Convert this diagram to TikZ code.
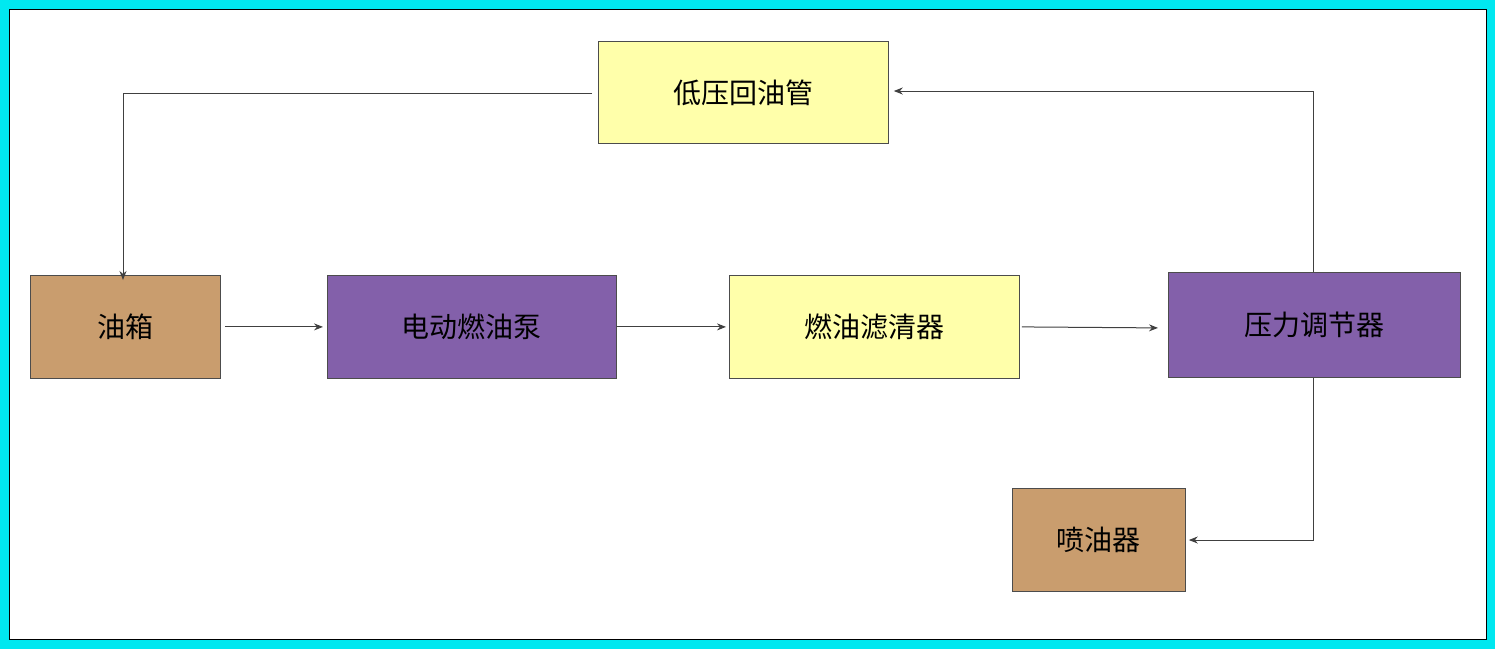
\documentclass[tikz,border=0pt]{standalone}
\usepackage{fontspec}
\newfontfamily\cjk{Noto Sans CJK SC}
\usetikzlibrary{arrows.meta}
\definecolor{ylw}{HTML}{FFFFAA}
\definecolor{tan}{HTML}{C99D6E}
\definecolor{prp}{HTML}{8360AA}
\definecolor{cyn}{HTML}{00E8F0}
\begin{document}
\begin{tikzpicture}[x=1pt,y=-1pt,
  box/.style={draw=black!70,line width=0.8pt,anchor=north west,inner sep=0pt,font=\cjk\fontsize{28}{32}\selectfont},
  arr/.style={draw=black!75,line width=1pt,-{Stealth[length=9pt,width=7pt]}}]
\fill[cyn] (0,0) rectangle (1495,649);
\fill[white,draw=black,line width=1pt] (9,9) rectangle (1486,639);
\node[box,fill=ylw,minimum width=290pt,minimum height=102pt] (lp) at (598,41) {低压回油管};
\node[box,fill=tan,minimum width=190pt,minimum height=103pt] (yx) at (30,275) {油箱};
\node[box,fill=prp,minimum width=289pt,minimum height=103pt] (bp) at (327,275) {电动燃油泵};
\node[box,fill=ylw,minimum width=290pt,minimum height=103pt] (lq) at (729,275) {燃油滤清器};
\node[box,fill=prp,minimum width=292pt,minimum height=105pt] (tj) at (1168,272) {压力调节器};
\node[box,fill=tan,minimum width=173pt,minimum height=103pt] (pq) at (1012,488) {喷油器};
\coordinate (c1) at (1313,91);
\coordinate (c2) at (123,93);
\coordinate (c3) at (1313,540);
\draw[arr] ([xshift=4pt]yx.east) -- ([xshift=-4pt]bp.west);
\draw[arr] (bp.east) -- ([xshift=-3pt]lq.west);
\draw[arr] ([xshift=2pt]lq.east) -- ([xshift=-10pt,yshift=-1pt]lq.east -| tj.west);
\draw[arr] (tj.north -| c1) -- (c1) -- ([xshift=5pt]c1 -| lp.east);
\draw[arr] ([xshift=-6pt]lp.west |- c2) -- (c2) -- ([yshift=-5pt]c2 |- yx.north);
\draw[arr] (tj.south -| c3) -- (c3) -- ([xshift=3pt]c3 -| pq.east);
\end{tikzpicture}
\end{document}
